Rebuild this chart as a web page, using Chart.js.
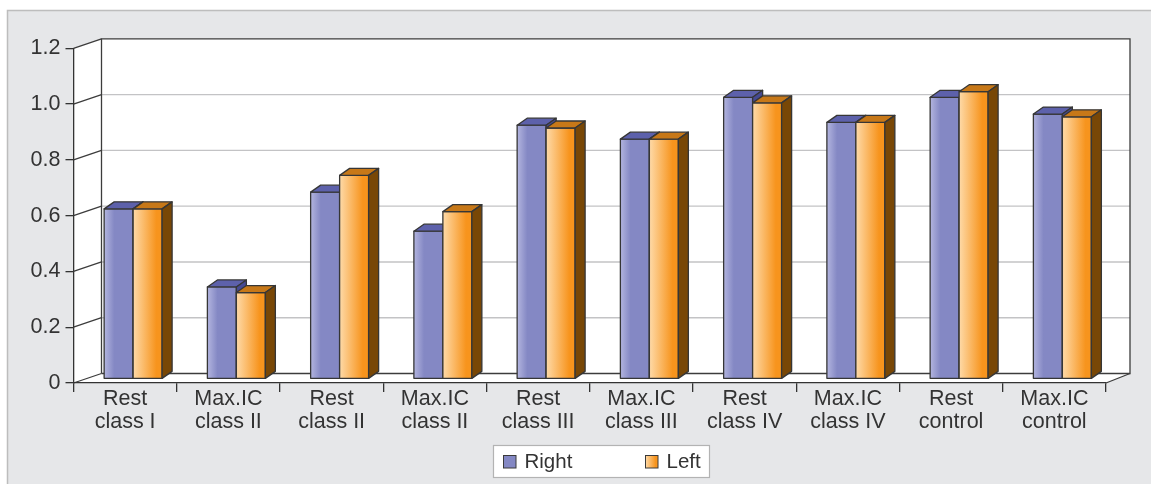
<!DOCTYPE html>
<html>
<head>
<meta charset="utf-8">
<script src="https://cdn.jsdelivr.net/npm/chart.js@4.4.1/dist/chart.umd.min.js"></script>
<style>
  html, body { margin: 0; padding: 0; background: #ffffff; }
  #c { display: block; }
</style>
</head>
<body>
<canvas id="c" width="1151" height="484"></canvas>
<script>
// Category labels (two lines each)
const categories = [
  ['Rest', 'class I'],
  ['Max.IC', 'class II'],
  ['Rest', 'class II'],
  ['Max.IC', 'class II'],
  ['Rest', 'class III'],
  ['Max.IC', 'class III'],
  ['Rest', 'class IV'],
  ['Max.IC', 'class IV'],
  ['Rest', 'control'],
  ['Max.IC', 'control']
];
const seriesNames = ['Right', 'Left'];
const rightValues = [0.61, 0.33, 0.67, 0.53, 0.91, 0.86, 1.01, 0.92, 1.01, 0.95];
const leftValues  = [0.61, 0.31, 0.73, 0.60, 0.90, 0.86, 0.99, 0.92, 1.03, 0.94];
const yTickLabels = ['0', '0.2', '0.4', '0.6', '0.8', '1.0', '1.2'];

const FONT = "'Liberation Sans', Arial, Helvetica, sans-serif";
const INK = '#333333';

// 3D geometry: back wall offset from the front axis plane, bar plane offset, bar depth
const WALL = { dx: 28, dxRight: 24, dy: -9.5 };
const PLANE = { dx: 8, dy: -4 };
const DEPTH = { dx: 10, dy: -7 };

// Face colours per series
const faces = [
  { base: '#8488c4', light: '#b3b5df', top: '#5d61ab', side: '#464a93' },
  { base: '#f7941d', light: '#fedaa8', top: '#c77818', side: '#784706' }
];

function line(ctx, x1, y1, x2, y2) {
  ctx.beginPath(); ctx.moveTo(x1, y1); ctx.lineTo(x2, y2); ctx.stroke();
}

const scene3d = {
  id: 'scene3d',
  beforeDraw(chart) {
    const { ctx, chartArea: a } = chart;
    const ys = chart.scales.y;
    const W = chart.width, H = chart.height;
    ctx.save();
    // outer panel
    ctx.fillStyle = '#ffffff';
    ctx.fillRect(0, 0, W, H);
    ctx.fillStyle = '#e6e7e9';
    ctx.fillRect(7.5, 10.5, W, H);
    ctx.strokeStyle = '#bdbdbd';
    ctx.lineWidth = 1.5;
    ctx.beginPath(); ctx.moveTo(7.5, H); ctx.lineTo(7.5, 10.5); ctx.lineTo(W, 10.5); ctx.stroke();

    const y0 = ys.getPixelForValue(ys.min);
    const y1 = ys.getPixelForValue(ys.max);
    const L = a.left, R = a.right;
    const bl = L + WALL.dx, br = R + WALL.dxRight;

    // white walls and floor
    ctx.fillStyle = '#ffffff';
    ctx.beginPath();
    ctx.moveTo(L, y1);
    ctx.lineTo(bl, y1 + WALL.dy);
    ctx.lineTo(br, y1 + WALL.dy);
    ctx.lineTo(br, y0 + WALL.dy);
    ctx.lineTo(R, y0);
    ctx.lineTo(L, y0);
    ctx.closePath();
    ctx.fill();

    // grid lines on the back wall
    ctx.strokeStyle = '#c3c3c5';
    ctx.lineWidth = 1.4;
    ys.ticks.forEach(t => {
      if (t.value > ys.min + 1e-9 && t.value < ys.max - 1e-9) {
        const yb = ys.getPixelForValue(t.value) + WALL.dy;
        line(ctx, bl, yb, br, yb);
      }
    });

    // dark edges: left wall diagonals, back wall frame, floor
    ctx.strokeStyle = '#3c3c3c';
    ctx.lineWidth = 1.3;
    ys.ticks.forEach(t => {
      const yf = ys.getPixelForValue(t.value);
      line(ctx, L, yf, bl, yf + WALL.dy);
    });
    ctx.beginPath();
    ctx.moveTo(bl, y0 + WALL.dy);
    ctx.lineTo(bl, y1 + WALL.dy);
    ctx.lineTo(br, y1 + WALL.dy);
    ctx.lineTo(br, y0 + WALL.dy);
    ctx.lineTo(bl, y0 + WALL.dy);
    ctx.stroke();
    line(ctx, R, y0, br, y0 + WALL.dy);
    ctx.restore();
  },
  afterDatasetsDraw(chart) {
    const { ctx } = chart;
    const metas = chart.data.datasets.map((d, i) => chart.getDatasetMeta(i));
    ctx.save();
    ctx.translate(PLANE.dx, PLANE.dy);
    ctx.strokeStyle = '#363636';
    ctx.lineWidth = 1.3;
    ctx.lineJoin = 'round';
    const n = chart.data.labels.length;
    // paint each category left to right, Right series before Left series
    for (let j = 0; j < n; j++) {
      metas.forEach((meta, si) => {
        const el = meta.data[j];
        if (!el) return;
        const p = el.getProps(['x', 'y', 'base', 'width'], true);
        const Lx = p.x - p.width / 2, Rx = p.x + p.width / 2;
        const T = p.y, B = p.base;
        const f = faces[si];
        // front face with a soft highlight on the left
        const g = ctx.createLinearGradient(Lx, 0, Rx, 0);
        g.addColorStop(0, f.light);
        g.addColorStop(si === 0 ? 0.35 : 0.8, f.base);
        g.addColorStop(1, f.base);
        ctx.fillStyle = g;
        ctx.beginPath(); ctx.rect(Lx, T, Rx - Lx, B - T); ctx.fill(); ctx.stroke();
        // top face
        ctx.fillStyle = f.top;
        ctx.beginPath();
        ctx.moveTo(Lx, T); ctx.lineTo(Rx, T);
        ctx.lineTo(Rx + DEPTH.dx, T + DEPTH.dy); ctx.lineTo(Lx + DEPTH.dx, T + DEPTH.dy);
        ctx.closePath(); ctx.fill(); ctx.stroke();
        // side face
        ctx.fillStyle = f.side;
        ctx.beginPath();
        ctx.moveTo(Rx, T); ctx.lineTo(Rx + DEPTH.dx, T + DEPTH.dy);
        ctx.lineTo(Rx + DEPTH.dx, B + DEPTH.dy); ctx.lineTo(Rx, B);
        ctx.closePath(); ctx.fill(); ctx.stroke();
      });
    }
    ctx.restore();
  },
  afterDraw(chart) {
    const { ctx } = chart;
    ctx.save();
    // legend box
    const bx = 493.5, by = 445.5, bw = 216, bh = 32;
    ctx.fillStyle = '#ffffff';
    ctx.strokeStyle = '#b3b3b3';
    ctx.lineWidth = 1.2;
    ctx.fillRect(bx, by, bw, bh);
    ctx.strokeRect(bx, by, bw, bh);
    const items = [{ x: 503.5 }, { x: 645.5 }];
    ctx.font = '20.5px ' + FONT;
    ctx.textBaseline = 'alphabetic';
    ctx.textAlign = 'left';
    chart.data.datasets.forEach((ds, i) => {
      const f = faces[i];
      const sx = items[i].x, sy = 455.5, s = 12.5;
      const g = ctx.createLinearGradient(sx, 0, sx + s, 0);
      g.addColorStop(0, i === 0 ? f.base : f.light);
      g.addColorStop(i === 0 ? 0.3 : 0.8, f.base);
      g.addColorStop(1, f.base);
      ctx.fillStyle = g;
      ctx.fillRect(sx, sy, s, s);
      ctx.strokeStyle = '#3a3a3a';
      ctx.lineWidth = 1;
      ctx.strokeRect(sx, sy, s, s);
      ctx.fillStyle = INK;
      ctx.fillText(ds.label, sx + 21, 468);
    });
    ctx.restore();
  }
};

new Chart(document.getElementById('c'), {
  type: 'bar',
  data: {
    labels: categories,
    datasets: [
      // faces are painted by the scene3d plugin from these elements
      { label: seriesNames[0], data: rightValues, backgroundColor: 'rgba(0,0,0,0)', borderWidth: 0 },
      { label: seriesNames[1], data: leftValues, backgroundColor: 'rgba(0,0,0,0)', borderWidth: 0 }
    ]
  },
  options: {
    responsive: false,
    animation: false,
    devicePixelRatio: 1,
    categoryPercentage: 0.5615,
    barPercentage: 1.0,
    layout: { padding: { top: 48.3, right: 45, bottom: 0, left: 0 } },
    plugins: {
      legend: { display: false },
      tooltip: { enabled: false }
    },
    scales: {
      x: {
        offset: true,
        afterFit(scale) { scale.height = 484 - 383; },
        grid: { offset: true, drawOnChartArea: false, drawTicks: true, tickLength: 9, color: INK, lineWidth: 1.3 },
        border: { display: true, color: INK, width: 1.3 },
        ticks: {
          autoSkip: false, maxRotation: 0, minRotation: 0,
          color: INK, padding: -4,
          font: { family: FONT, size: 21.5, lineHeight: 1.07 }
        }
      },
      y: {
        min: 0, max: 1.2,
        afterFit(scale) { scale.width = 73.5; },
        grid: { drawOnChartArea: false, drawTicks: true, tickLength: 8, color: INK, lineWidth: 1.3 },
        border: { display: true, color: INK, width: 1.3 },
        ticks: {
          stepSize: 0.2,
          color: INK, padding: 5,
          font: { family: FONT, size: 21.5 },
          callback: (v, i) => yTickLabels[i]
        }
      }
    }
  },
  plugins: [scene3d]
});
</script>
</body>
</html>
